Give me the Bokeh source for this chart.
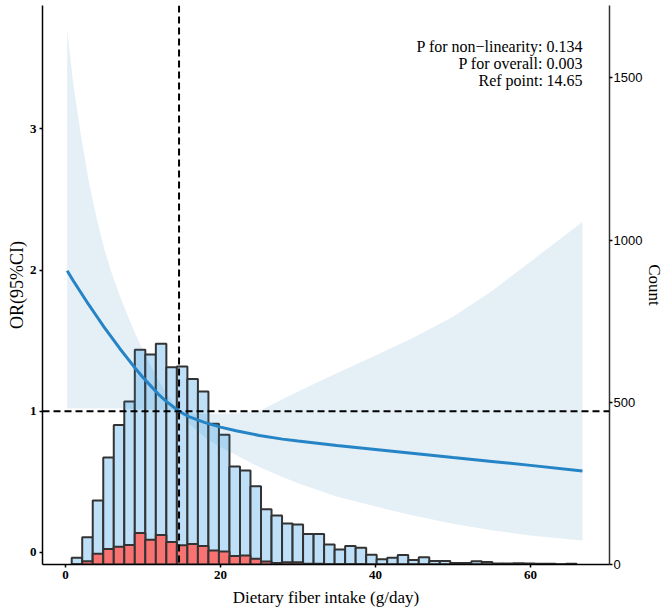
import numpy as np
from bokeh.plotting import figure
from bokeh.models import Range1d, LinearAxis, Span, FixedTicker, Label, ColumnDataSource
from bokeh.embed import file_html
from bokeh.resources import INLINE

# ---------------- data ----------------
# histogram (bins of width ~1.357 g/day starting at 0.8)
bin_start = 0.8
bin_width = 1.357
count_total = [21, 84, 197, 330, 430, 502, 662, 647, 680, 608, 610, 572, 533, 434, 400,
               302, 290, 241, 170, 151, 126, 123, 94, 94, 62, 46, 57, 52, 30, 16, 21, 29,
               14, 22, 11, 11, 5, 5, 10, 8, 3, 3, 4, 3, 2, 2, 1, 2]
count_case = [1, 10, 33, 48, 55, 60, 97, 76, 91, 69, 59, 63, 57, 43, 40,
              26, 28, 18, 9, 5, 7, 7, 2, 2, 1, 1, 1, 1, 0, 0, 0, 0,
              0, 0, 0, 0, 0, 0, 0, 0, 0, 0, 0, 0, 0, 0, 0, 0]

# restricted cubic spline OR curve with 95% CI
fiber_x = [0.22, 1, 2, 3, 4, 5, 6, 7, 8, 9, 10, 11, 12, 13, 14.65, 16, 18, 20, 22, 25,
           28, 30, 35, 40, 45, 50, 55, 60, 66.7]
or_est = [1.995, 1.925, 1.84, 1.755, 1.675, 1.595, 1.52, 1.445, 1.375, 1.305, 1.24, 1.18,
          1.12, 1.07, 1.0, 0.96, 0.92, 0.888, 0.862, 0.829, 0.803, 0.789, 0.758, 0.730, 0.701,
          0.672, 0.645, 0.617, 0.577]
or_upper = [3.70, 3.32, 2.95, 2.63, 2.37, 2.15, 1.97, 1.82, 1.68, 1.55, 1.43, 1.32, 1.22,
            1.13, 1.0, 0.985, 0.98, 0.98, 0.985, 1.0, 1.085, 1.14, 1.27, 1.395, 1.525, 1.67,
            1.85, 2.06, 2.34]
or_lower = [1.02, 1.02, 1.02, 1.02, 1.02, 1.02, 1.02, 1.02, 1.018, 1.016, 1.015, 1.013,
            1.012, 1.01, 1.0, 0.91, 0.815, 0.745, 0.69, 0.605, 0.535, 0.49, 0.397, 0.325, 0.26,
            0.203, 0.157, 0.12, 0.085]

ref_point = 14.65
ref_or = 1.0

stat_labels = ["P for non\u2212linearity:", "P for overall:", "Ref point:"]
stat_values = ["0.134", "0.003", "14.65"]

x_ticks = [0, 20, 40, 60]
or_ticks = [0, 1, 2, 3]
count_ticks = [0, 500, 1000, 1500]

# ---------------- figure ----------------
SERIF = "Liberation Serif"
SANS = "Liberation Sans"

p = figure(width=669, height=614, output_backend="svg", toolbar_location=None,
           x_range=Range1d(-2.968, 70.19), y_range=Range1d(-0.085, 3.874),
           min_border_left=42, min_border_right=60, min_border_top=5, min_border_bottom=50)
p.title.visible = False
p.outline_line_color = None
p.grid.visible = False
p.background_fill_color = "white"
p.extra_y_ranges = {"count": Range1d(0, 1722.7)}

edges = bin_start + bin_width * np.arange(len(count_total) + 1)
hist = ColumnDataSource(dict(left=edges[:-1], right=edges[1:],
                             total=count_total, case=count_case))
p.quad(left="left", right="right", bottom=0, top="total", source=hist,
       y_range_name="count", fill_color="#BDE0F8", line_color="#333333", line_width=2)
p.quad(left="left", right="right", bottom=0, top="case", source=hist,
       y_range_name="count", fill_color="#F87272", line_color="#333333", line_width=2)

p.varea(x=fiber_x, y1=or_lower, y2=or_upper, fill_color="#3182BD", fill_alpha=0.13)
p.line(fiber_x, or_est, line_color="#2484C6", line_width=3)

p.add_layout(Span(location=ref_or, dimension="width", line_color="black",
                  line_width=2, line_dash="7 4"))
p.add_layout(Span(location=ref_point, dimension="height", line_color="black",
                  line_width=2, line_dash="7 4"))

for i, (lab, val) in enumerate(zip(stat_labels, stat_values)):
    yy = 3.586 - 0.122 * i
    p.add_layout(Label(x=61.6, y=yy, text=lab, text_align="right", text_baseline="alphabetic",
                       text_font=SERIF, text_font_size="16px", text_color="black"))
    p.add_layout(Label(x=62.06, y=yy, text=val, text_align="left", text_baseline="alphabetic",
                       text_font=SERIF, text_font_size="16px", text_color="black"))

# axes
xa = p.xaxis[0]
xa.ticker = FixedTicker(ticks=x_ticks)
xa.axis_label = "Dietary fiber intake (g/day)"
ya = p.yaxis[0]
ya.ticker = FixedTicker(ticks=or_ticks)
ya.axis_label = "OR(95%CI)"

ra = LinearAxis(y_range_name="count", ticker=FixedTicker(ticks=count_ticks), axis_label="Count")
p.add_layout(ra, "right")

for ax in (xa, ya):
    ax.major_label_text_font = SERIF
    ax.major_label_text_font_style = "bold"
    ax.major_label_text_font_size = "13px"
    ax.major_label_text_color = "black"
for ax in (xa, ya, ra):
    ax.minor_tick_line_color = None
    ax.major_tick_in = 0
    ax.major_tick_out = 3
    ax.major_tick_line_width = 1.5
    ax.major_tick_line_color = "black"
    ax.axis_line_color = "black"
    ax.axis_line_width = 1.5
    ax.axis_label_text_font = SERIF
    ax.axis_label_text_font_style = "normal"
    ax.axis_label_text_font_size = "17px"
    ax.axis_label_text_color = "black"
    ax.major_label_standoff = 3

ya.axis_label_text_font_size = "18px"
ya.axis_label_standoff = 0
xa.axis_label_standoff = 6

ra.major_label_text_font = SANS
ra.major_label_text_font_size = "13px"
ra.major_label_text_color = "black"
ra.major_label_standoff = 1
ra.axis_line_color = "#333333"
ra.axis_label_standoff = 0

open("out.html", "w").write(file_html(p, INLINE, "plot"))
